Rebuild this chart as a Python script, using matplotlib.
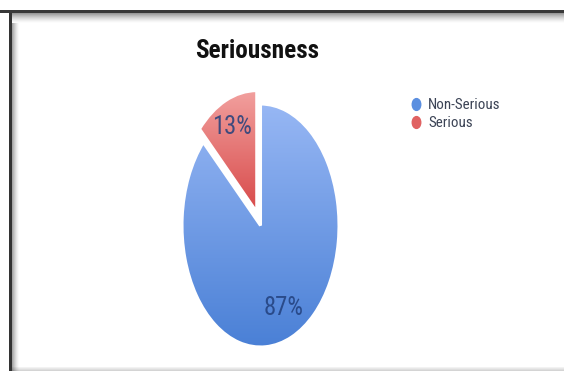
import numpy as np
import matplotlib
matplotlib.use("Agg")
import matplotlib.pyplot as plt
from matplotlib import font_manager
from matplotlib.lines import Line2D
from matplotlib.path import Path
from matplotlib.patches import Rectangle
from matplotlib.colors import LinearSegmentedColormap

# ---- data ----
title = "Seriousness"
categories = ["Non-Serious", "Serious"]
shares = [87, 13]
explode = [0, 0.12]
colors_top = ["#97b7f4", "#f3a4a2"]
colors_bottom = ["#4a80d6", "#d64444"]
legend_colors = ["#5b8fe0", "#e06262"]

# pick the narrowest sans face available
entries = font_manager.fontManager.ttflist
names = {f.name for f in entries}
FONT, STRETCH = ["DejaVu Sans"], "normal"
for cand in ["Liberation Sans Narrow", "Roboto Condensed", "Open Sans Condensed",
             "Noto Sans Condensed", "DejaVu Sans Condensed"]:
    if cand in names:
        FONT = [cand, "DejaVu Sans"]
        break
else:
    if any(f.name == "DejaVu Sans" and str(f.stretch) in ("condensed", "semi-condensed")
           for f in entries):
        FONT, STRETCH = ["DejaVu Sans"], "condensed"
    elif "Roboto" in names:
        FONT = ["Roboto", "DejaVu Sans"]

W, H = 564, 371
fig = plt.figure(figsize=(W / 100, H / 100), dpi=100)
fig.patch.set_facecolor("white")
renderer = fig.canvas.get_renderer()


def fit_width(t, target_px, base):
    """Scale a text's size so that it spans roughly target_px."""
    t.set_fontsize(base)
    w = t.get_window_extent(renderer).width
    t.set_fontsize(base * target_px / w)


# ---- frame shading along the top, left and bottom edges (pixel coords) ----
def px_rect(x0, y0, x1, y1, alpha):
    """Black rectangle given in pixels measured from the top-left corner."""
    fig.patches.append(Rectangle(
        (x0 / W, 1 - y1 / H), (x1 - x0) / W, (y1 - y0) / H,
        transform=fig.transFigure, facecolor="black", edgecolor="none",
        linewidth=0, alpha=alpha, zorder=0))


px_rect(0, 10, W, 13, 0.78)                 # top edge
for i in range(10):                          # shadow under the top edge
    px_rect(12, 13 + i, W, 14 + i, 0.40 * (1 - i / 10) ** 1.5)
px_rect(9, 13, 12, H, 0.80)                  # left edge
for i in range(7):                           # shadow right of the left edge
    px_rect(12 + i, 23, 13 + i, H, 0.35 * (1 - i / 7) ** 1.5)
for i in range(4):                           # faint bottom edge
    px_rect(12, H - 4 + i, W, H - 3 + i, 0.05 + 0.04 * i)

# ---- pie (drawn as an ellipse: taller than wide) ----
cx, cy = 260.5, 225.5
rx, ry = 78.5, 121.5
lim = 1.25
ax = fig.add_axes([(cx - lim * rx) / W, (H - cy - lim * ry) / H,
                   2 * lim * rx / W, 2 * lim * ry / H], zorder=2)

wedges, _, autotexts = ax.pie(
    shares, explode=explode, startangle=90, counterclock=False,
    autopct="%1.0f%%", pctdistance=0.74,
    wedgeprops=dict(linewidth=2.2, edgecolor="white"),
    textprops=dict(fontsize=18, color="#22407c", family=FONT,
                   fontstretch=STRETCH),
)

# vertical gradient fill clipped to each wedge
spans = [(1.0, -1.0), (1.15, 0.05)]
for w, top, bot, (yt, yb) in zip(wedges, colors_top, colors_bottom, spans):
    cmap = LinearSegmentedColormap.from_list("g", [bot, top])
    grad = np.linspace(0, 1, 256).reshape(-1, 1)
    im = ax.imshow(grad, cmap=cmap, origin="lower", aspect="auto",
                   extent=[-1.3, 1.3, yb, yt], interpolation="bilinear",
                   zorder=w.get_zorder() - 0.5)
    im.set_clip_path(w)
    w.set_facecolor("none")

for t in autotexts:
    t.set_alpha(0.85)
    t.set_zorder(5)
    fit_width(t, 40, 18)
# the small slice's label sits a bit further out
x, y = autotexts[1].get_position()
autotexts[1].set_position((x * 1.08, y * 1.03))

ax.set_aspect("auto")
ax.set_xlim(-lim, lim)
ax.set_ylim(-lim, lim)
ax.axis("off")

# ---- title ----
ttl = fig.text(257 / W, (H - 58) / H, title, ha="center", va="baseline",
               fontweight="bold", color="#111111", family=FONT,
               fontstretch=STRETCH)
fit_width(ttl, 124, 19)

# ---- legend with narrow oval markers ----
circ = Path.unit_circle()
oval = Path(circ.vertices * np.array([0.72, 1.0]), circ.codes)
handles = [Line2D([], [], linestyle="none", marker=oval, markersize=8.5,
                  markerfacecolor=c, markeredgecolor=c)
           for c in legend_colors]
probe = fig.text(0.5, 0.5, categories[0], family=FONT, fontstretch=STRETCH)
fit_width(probe, 72, 11.5)
lsize = probe.get_fontsize()
probe.remove()
leg = fig.legend(handles, categories, loc="upper left",
                 bbox_to_anchor=(411 / W, (H - 98) / H), frameon=False,
                 handlelength=0.7, handletextpad=0.45,
                 labelspacing=0.3, borderpad=0, borderaxespad=0,
                 prop=dict(family=FONT, size=lsize, stretch=STRETCH))
for txt in leg.get_texts():
    txt.set_color("#3b4355")

fig.savefig("out.png", dpi=100, facecolor="white")
